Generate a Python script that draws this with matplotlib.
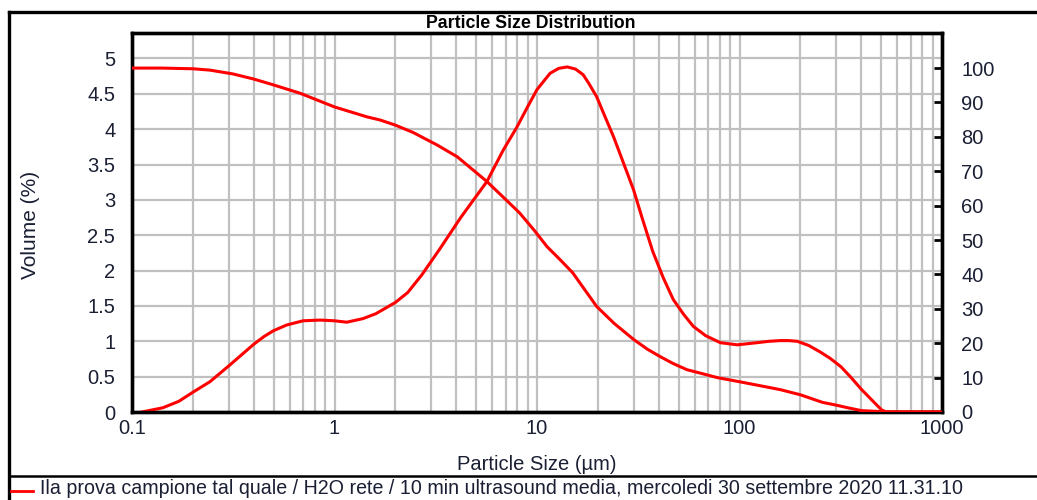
import matplotlib
matplotlib.use("Agg")
import matplotlib.pyplot as plt
from matplotlib.lines import Line2D
from matplotlib.ticker import FixedLocator, FixedFormatter, LogLocator, NullFormatter

plt.rcParams['font.family'] = ['Liberation Sans', 'DejaVu Sans']

# Frequency distribution (left axis, Volume %)
freq_size = [0.112, 0.142, 0.17, 0.2, 0.243, 0.3, 0.4, 0.45, 0.5, 0.58, 0.7, 0.85, 1.0,
             1.15, 1.38, 1.6, 2.0, 2.3, 2.7, 3.3, 4.2, 5.66, 6.8, 7.96, 9.0, 10.0, 11.6,
             12.8, 14.1, 15.5, 16.9, 18.0, 19.7, 21.5, 23.9, 26.5, 30.0, 33.0, 37.3, 42.0,
             47.1, 53.0, 59.2, 68.0, 80.5, 97.4, 122, 140, 159, 175, 193, 220, 250, 280,
             317, 355, 400, 450, 503, 530, 1000]
freq_vol = [0.0, 0.06, 0.15, 0.28, 0.43, 0.65, 0.96, 1.07, 1.15, 1.23, 1.29, 1.30, 1.29,
            1.27, 1.32, 1.39, 1.55, 1.69, 1.94, 2.30, 2.75, 3.26, 3.70, 4.03, 4.32, 4.56,
            4.79, 4.86, 4.88, 4.85, 4.77, 4.65, 4.46, 4.20, 3.89, 3.55, 3.14, 2.75, 2.27,
            1.90, 1.59, 1.38, 1.21, 1.08, 0.98, 0.95, 0.98, 1.00, 1.01, 1.01, 1.00, 0.94,
            0.85, 0.76, 0.64, 0.49, 0.32, 0.17, 0.03, 0.0, 0.0]

# Cumulative (right axis, %)
cum_size = [0.1, 0.14, 0.2, 0.243, 0.315, 0.4, 0.5, 0.675, 1.0, 1.45, 1.68, 2.0, 2.44,
            3.22, 4.04, 5.66, 7.0, 8.2, 9.7, 11.2, 13.0, 15.0, 17.0, 19.7, 24.0, 30.0,
            35.0, 40.6, 47.0, 55.0, 65.0, 77.7, 100, 125, 159, 200, 257, 300, 338, 400,
            503, 600, 1000]
cum_pct = [100, 100, 99.8, 99.4, 98.3, 96.8, 95.1, 92.7, 88.7, 85.8, 84.9, 83.4, 81.3,
           77.6, 74.2, 67.0, 61.8, 57.9, 52.8, 48.1, 44.3, 40.5, 36.0, 30.7, 25.8, 21.1,
           18.3, 16.1, 14.1, 12.3, 11.2, 10.0, 8.8, 7.7, 6.5, 5.0, 2.8, 2.0, 1.3, 0.4,
           0.1, 0.0, 0.0]

left_ticks = [0, 0.5, 1, 1.5, 2, 2.5, 3, 3.5, 4, 4.5, 5]
left_labels = ['0', '0.5', '1', '1.5', '2', '2.5', '3', '3.5', '4', '4.5', '5']
right_ticks = [0, 10, 20, 30, 40, 50, 60, 70, 80, 90, 100]
x_ticks = [0.1, 1, 10, 100, 1000]
x_labels = ['0.1', '1', '10', '100', '1000']

title = 'Particle Size Distribution'
xlabel = 'Particle Size (µm)'
ylabel = 'Volume (%)'
legend_text = 'Ila prova campione tal quale / H2O rete / 10 min ultrasound media, mercoledi 30 settembre 2020 11.31.10'

W, H = 1037, 500
fig = plt.figure(figsize=(W / 100, H / 100), dpi=100)
txtc = '#1a1f33'
red = '#ff0000'
grid_c = '#c0c0c0'

ax = fig.add_axes([132 / W, 1 - 412 / H, 810 / W, 379 / H])
ax.set_xscale('log')
ax.set_xlim(0.1, 1000)
ax.set_ylim(0, 5.36)
ax2 = ax.twinx()
ax2.set_ylim(0, 110.2)

ax.xaxis.set_major_locator(FixedLocator(x_ticks))
ax.xaxis.set_major_formatter(FixedFormatter(x_labels))
ax.xaxis.set_minor_locator(LogLocator(base=10, subs=range(2, 10), numticks=20))
ax.xaxis.set_minor_formatter(NullFormatter())
ax.yaxis.set_major_locator(FixedLocator(left_ticks))
ax.yaxis.set_major_formatter(FixedFormatter(left_labels))

ax.grid(True, which='both', axis='x', color=grid_c, lw=1.6)
ax.grid(True, which='major', axis='y', color=grid_c, lw=1.6)
ax.set_axisbelow(True)

ax.tick_params(axis='x', which='both', length=0, labelsize=14.5, labelcolor=txtc, pad=5)
ax.tick_params(axis='y', which='both', length=0, labelsize=14.5, labelcolor=txtc, pad=12)

ax2.set_yticks(right_ticks)
ax2.set_yticklabels([str(v) for v in right_ticks])
ax2.tick_params(axis='y', direction='in', length=6, width=2, labelsize=14.5,
                labelcolor=txtc, pad=14, color='black')

for a in (ax, ax2):
    for s in a.spines.values():
        s.set_linewidth(2.4)
        s.set_color('black')

ax.plot(freq_size, freq_vol, color=red, lw=2.2, solid_joinstyle='round', zorder=3)
ax2.plot(cum_size, cum_pct, color=red, lw=2.2, solid_joinstyle='round', zorder=3)

ax.set_xlabel(xlabel, fontsize=14.5, color=txtc, labelpad=12)
fig.text(30 / W, 1 - 225 / H, ylabel, rotation=90, ha='center', va='center',
         fontsize=15, color=txtc)
fig.text(531 / W, 1 - 23 / H, title, ha='center', va='center', fontsize=12.8,
         fontweight='bold', color='black')

# outer frame and legend area
fy_top = 1 - 12 / H
fx_left = 9 / W
fig.add_artist(Line2D([fx_left, 1.01], [fy_top, fy_top], transform=fig.transFigure,
                      color='black', lw=2.4))
fig.add_artist(Line2D([fx_left, fx_left], [fy_top, -0.01], transform=fig.transFigure,
                      color='black', lw=2.4))
fig.add_artist(Line2D([fx_left, 1.01], [1 - 476 / H, 1 - 476 / H], transform=fig.transFigure,
                      color='black', lw=1.8))
fig.add_artist(Line2D([11 / W, 33 / W], [1 - 491 / H, 1 - 491 / H], transform=fig.transFigure,
                      color=red, lw=2.0))
fig.text(40 / W, 1 - 489 / H, legend_text, ha='left', va='center', fontsize=14.1, color=txtc)

fig.savefig('out.png', dpi=100)
